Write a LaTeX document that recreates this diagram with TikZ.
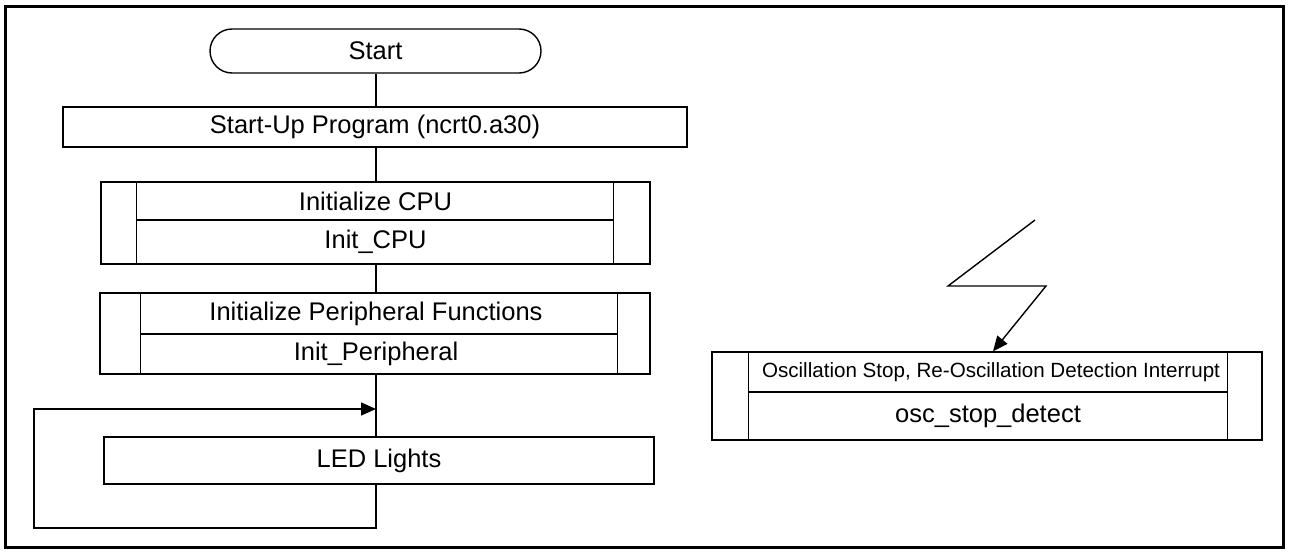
\documentclass[tikz,border=0pt]{standalone}
\usepackage{fontspec}
\setmainfont{Liberation Sans}
\usetikzlibrary{arrows.meta,calc}
\begin{document}
\begin{tikzpicture}[x=1pt,y=-1pt,
  box/.style={draw, line width=1.4pt, rectangle, inner sep=0pt},
  big/.style={font=\fontsize{25.5}{28}\selectfont, inner sep=0pt},
  small/.style={font=\fontsize{20.6}{24}\selectfont, inner sep=0pt},
  conn/.style={line width=1.4pt},
  arr/.style={line width=1.4pt, -{Triangle[length=15pt,width=13pt]}},
  frame/.style={line width=3pt}]
\path[use as bounding box] (0,0) rectangle (1289,552);
\draw[frame] (5,6) rectangle (1283,547);
\coordinate (sp) at (376,0);

% Start terminal
\node[box, rounded corners=22pt, minimum width=331pt, minimum height=44pt, big] (start) at (375.5,51) {Start};

% Start-up program
\node[box, minimum width=624pt, minimum height=40pt, big] (prog) at (375,127) {Start-Up Program (ncrt0.a30)};

% Initialize CPU
\node[box, minimum width=549pt, minimum height=82pt] (cpu) at (375.5,223) {};
\draw[conn] ($(cpu.north west)+(36,0)$) -- ($(cpu.south west)+(36,0)$);
\draw[conn] ($(cpu.north east)+(-37,0)$) -- ($(cpu.south east)+(-37,0)$);
\draw[conn] (137,220) -- (613,220);
\node[big] (cpuA) at (375.5,201) {Initialize CPU};
\node[big] (cpuB) at (375.5,242) {Init\_CPU};

% Initialize peripheral
\node[box, minimum width=550pt, minimum height=81pt] (per) at (375,333.5) {};
\draw[conn] ($(per.north west)+(41,0)$) -- ($(per.south west)+(41,0)$);
\draw[conn] ($(per.north east)+(-33,0)$) -- ($(per.south east)+(-33,0)$);
\draw[conn] (141,334) -- (617,334);
\node[big] (perA) at (376,313.5) {Initialize Peripheral Functions};
\node[big] (perB) at (376,354) {Init\_Peripheral};

% LED lights
\node[box, minimum width=550pt, minimum height=47pt, big] (led) at (379,460.5) {LED Lights};

% Interrupt routine
\node[box, minimum width=550pt, minimum height=88pt] (osc) at (987,396) {};
\draw[conn] ($(osc.north west)+(37,0)$) -- ($(osc.south west)+(37,0)$);
\draw[conn] ($(osc.north east)+(-35,0)$) -- ($(osc.south east)+(-35,0)$);
\draw[conn] (749,392) -- (1227,392);
\node[small] (oscA) at (991,372) {Oscillation Stop, Re-Oscillation Detection Interrupt};
\node[big] (oscB) at (988,416) {osc\_stop\_detect};

% Connectors
\draw[conn] (start.south -| sp) -- (prog.north -| sp);
\draw[conn] (prog.south -| sp) -- (cpu.north -| sp);
\draw[conn] (cpu.south -| sp) -- (per.north -| sp);
\draw[conn] (per.south -| sp) -- (led.north -| sp);
\coordinate (loopin) at (376,409);
\coordinate (lb) at (34,528);
\draw[arr] (led.south -| sp) |- (lb) |- (loopin);

% Interrupt lightning
\coordinate (z1) at (1035,220);
\coordinate (z2) at (948,286);
\coordinate (z3) at (1046,286);
\draw[arr] (z1) -- (z2) -- (z3) -- ($(osc.north)+(6,0)$);
\end{tikzpicture}
\end{document}
